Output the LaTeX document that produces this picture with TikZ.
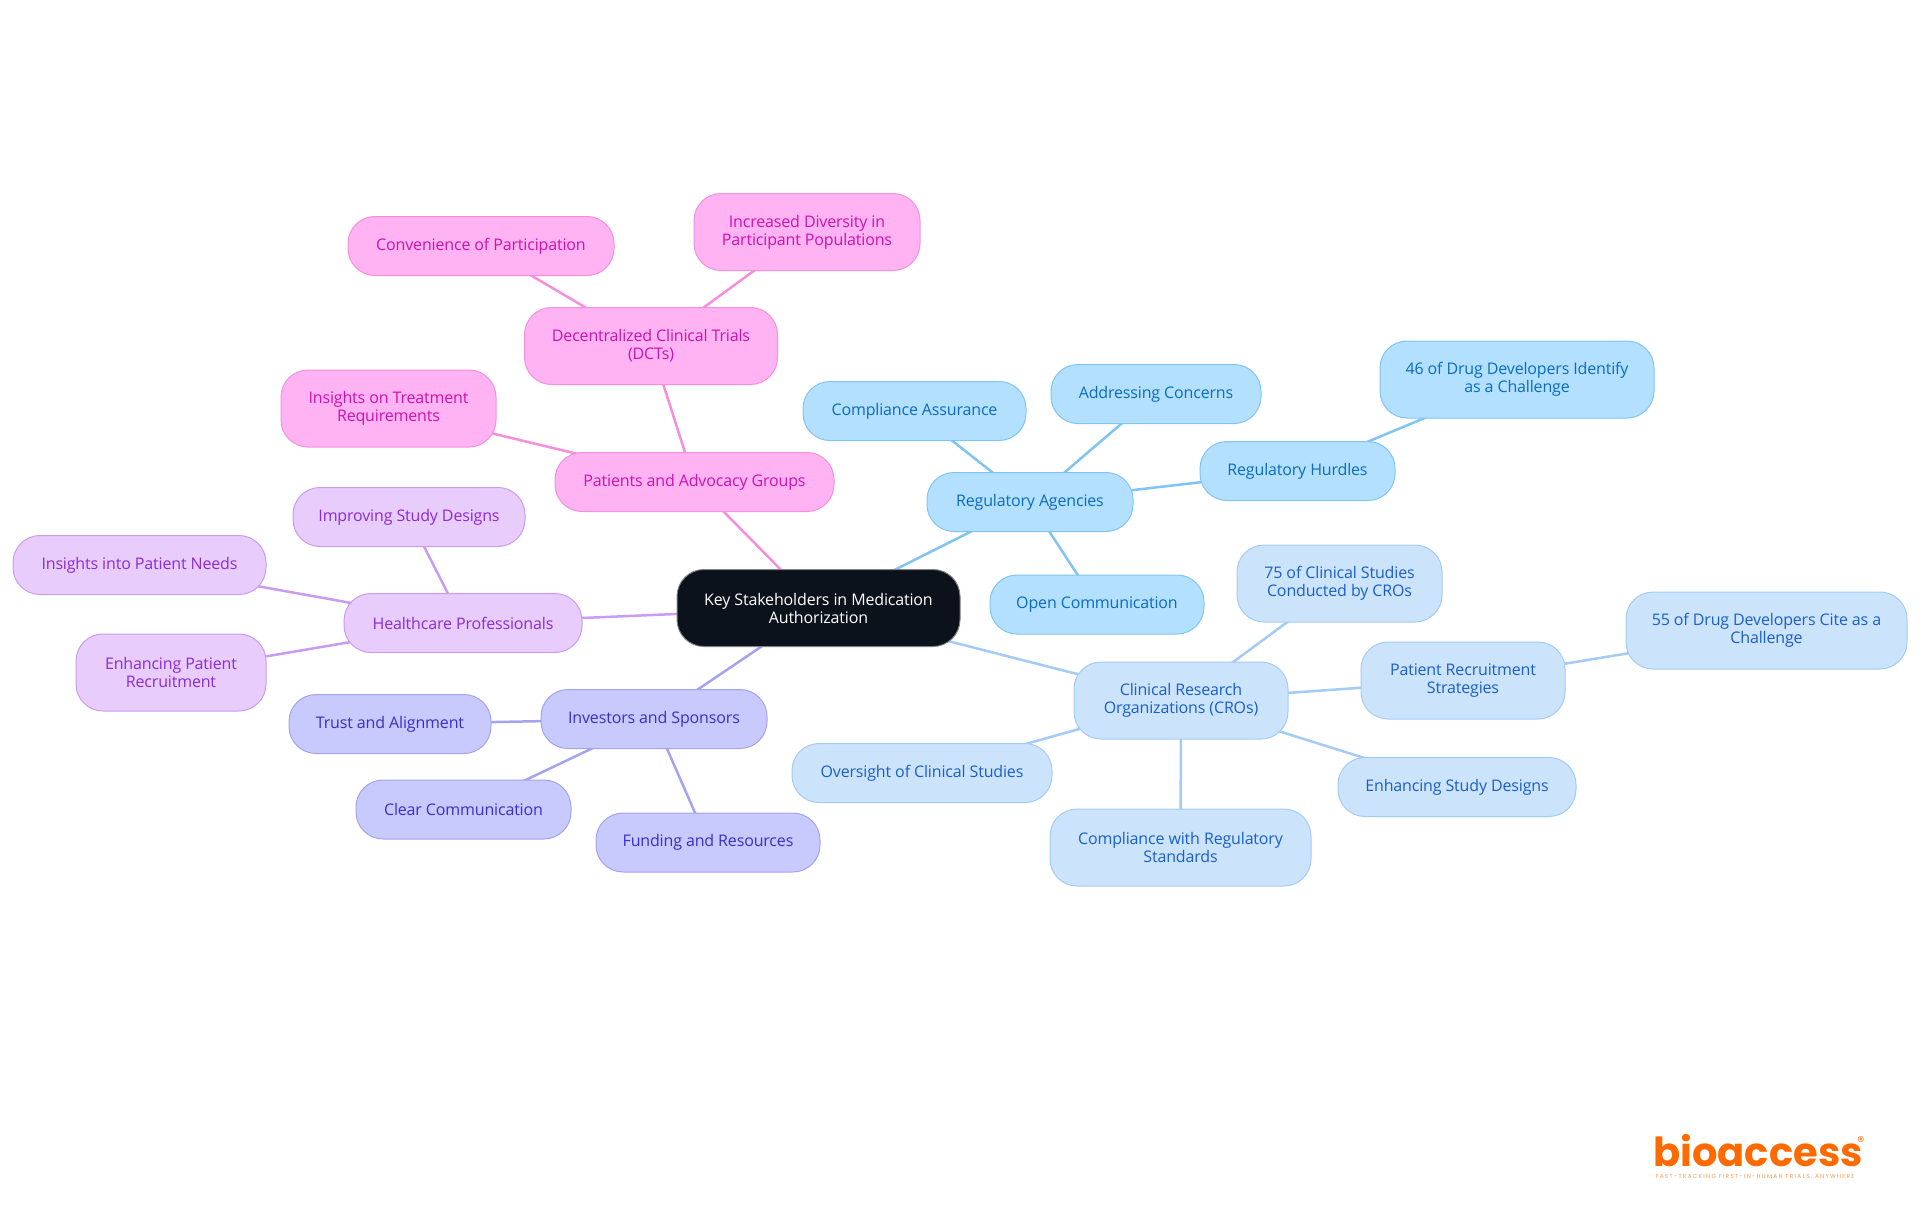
\documentclass[tikz,border=0pt]{standalone}
\usepackage{fontspec}
\setmainfont[LetterSpace=-1]{Open Sans}
\newfontfamily\logofont{Poppins}
\newfontfamily\tagfont[LetterSpace=22]{Poppins}
\usetikzlibrary{backgrounds}
\definecolor{rootfill}{HTML}{0B121B}
\definecolor{regfill}{HTML}{B3E0FF}
\definecolor{regline}{HTML}{80C4F3}
\definecolor{regtext}{HTML}{0B6CC0}
\definecolor{crofill}{HTML}{CCE3FC}
\definecolor{croline}{HTML}{A3CBF5}
\definecolor{crotext}{HTML}{1A5FC8}
\definecolor{invfill}{HTML}{C8C9FD}
\definecolor{invline}{HTML}{A3A3F0}
\definecolor{invtext}{HTML}{3A2FC8}
\definecolor{hcfill}{HTML}{E8CCFC}
\definecolor{hcline}{HTML}{C99CF0}
\definecolor{hctext}{HTML}{8A2BD8}
\definecolor{patfill}{HTML}{FFB3F2}
\definecolor{patline}{HTML}{F58FDD}
\definecolor{pattext}{HTML}{D010B0}
\definecolor{logoorange}{HTML}{FF6A00}
\tikzset{every node/.style={font=\fontsize{8pt}{9pt}\selectfont,align=center,inner sep=0pt},
         topic/.style={rounded corners=13.5pt,minimum height=29.5pt,line width=0.5pt},
         tall/.style={minimum height=38.5pt},
         rootnode/.style={topic,tall,fill=rootfill,draw=gray,text=white},
         reg/.style={topic,fill=regfill,draw=regline,text=regtext},
         cro/.style={topic,fill=crofill,draw=croline,text=crotext},
         inv/.style={topic,fill=invfill,draw=invline,text=invtext},
         hc/.style={topic,fill=hcfill,draw=hcline,text=hctext},
         pat/.style={topic,fill=patfill,draw=patline,text=pattext},
         link/.style={line width=1.25pt},
        }

\begin{document}
\begin{tikzpicture}[x=0.5pt,y=-0.5pt]
        \useasboundingbox(0,0)rectangle(1920,1215);

        \node[rootnode,minimum width=141.5pt](root)at(818.5,608){Key Stakeholders in Medication\\Authorization};

        \node[reg,minimum width=103pt](ra)at(1030,502){Regulatory Agencies};
        \node[reg,minimum width=107pt](oc)at(1097,604.5){Open Communication};
        \node[reg,minimum width=111.5pt](ca)at(914.5,411){Compliance Assurance};
        \node[reg,minimum width=105pt](ac)at(1156,394){Addressing Concerns};
        \node[reg,minimum width=97.5pt](rh)at(1297.5,471){Regulatory Hurdles};
        \node[reg,tall,minimum width=137pt](dd)at(1517,379.5){46 of Drug Developers Identify\\as a Challenge};

        \node[cro,tall,minimum width=107pt](cr)at(1181,700.5){Clinical Research\\Organizations (CROs)};
        \node[cro,tall,minimum width=102.5pt](cs)at(1339.5,583.5){75 of Clinical Studies\\Conducted by CROs};
        \node[cro,tall,minimum width=102pt](pr)at(1463,680.5){Patient Recruitment\\Strategies};
        \node[cro,tall,minimum width=140.5pt](dc)at(1766.5,630.5){55 of Drug Developers Cite as a\\Challenge};
        \node[cro,minimum width=119pt](es)at(1457,787){Enhancing Study Designs};
        \node[cro,tall,minimum width=130.5pt](cw)at(1180.5,847.5){Compliance with Regulatory\\Standards};
        \node[cro,minimum width=130pt](os)at(922,773){Oversight of Clinical Studies};

        \node[inv,minimum width=113pt](is)at(654,719){Investors and Sponsors};
        \node[inv,minimum width=101pt](ta)at(390,724){Trust and Alignment};
        \node[inv,minimum width=107.5pt](cc)at(463.5,809.5){Clear Communication};
        \node[inv,minimum width=112pt](fr)at(708,842.5){Funding and Resources};

        \node[hc,minimum width=119pt](hp)at(463,623){Healthcare Professionals};
        \node[hc,minimum width=116pt](id)at(409,517){Improving Study Designs};
        \node[hc,minimum width=126.5pt](pn)at(139.5,565){Insights into Patient Needs};
        \node[hc,tall,minimum width=95pt](ep)at(171,672.5){Enhancing Patient\\Recruitment};

        \node[pat,minimum width=139.5pt](pa)at(694.5,482){Patients and Advocacy Groups};
        \node[pat,tall,minimum width=126.5pt](dt)at(651,346){Decentralized Clinical Trials\\(DCTs)};
        \node[pat,minimum width=133pt](cp)at(481,246){Convenience of Participation};
        \node[pat,tall,minimum width=113pt](di)at(807,232){Increased Diversity in\\Participant Populations};
        \node[pat,tall,minimum width=107.5pt](tr)at(388.5,408.5){Insights on Treatment\\Requirements};

        \begin{scope}[on background layer]
        \draw[link,regline](root.center)--(ra.center);
        \draw[link,regline](ra.center)--(oc.center);
        \draw[link,regline](ra.center)--(ca.center);
        \draw[link,regline](ra.center)--(ac.center);
        \draw[link,regline](ra.center)--(rh.center);
        \draw[link,regline](rh.center)--(dd.center);

        \draw[link,croline](root.center)--(cr.center);
        \draw[link,croline](cr.center)--(cs.center);
        \draw[link,croline](cr.center)--(pr.center);
        \draw[link,croline](pr.center)--(dc.center);
        \draw[link,croline](cr.center)--(es.center);
        \draw[link,croline](cr.center)--(cw.center);
        \draw[link,croline](cr.center)--(os.center);

        \draw[link,invline](root.center)--(is.center);
        \draw[link,invline](is.center)--(ta.center);
        \draw[link,invline](is.center)--(cc.center);
        \draw[link,invline](is.center)--(fr.center);

        \draw[link,hcline](root.center)--(hp.center);
        \draw[link,hcline](hp.center)--(id.center);
        \draw[link,hcline](hp.center)--(pn.center);
        \draw[link,hcline](hp.center)--(ep.center);

        \draw[link,patline](root.center)--(pa.center);
        \draw[link,patline](pa.center)--(dt.center);
        \draw[link,patline](dt.center)--(cp.center);
        \draw[link,patline](dt.center)--(di.center);
        \draw[link,patline](pa.center)--(tr.center);
        \end{scope}

        % logo
        \node[text=logoorange,font=\logofont\bfseries\fontsize{20pt}{20pt}\selectfont](logo)at(1758,1151){bioaccess};
        \node[text=logoorange,font=\logofont\fontsize{7pt}{7pt}\selectfont](mark)at(1861,1142){®};
        \node[text=logoorange!70,font=\tagfont\fontsize{2.9pt}{3pt}\selectfont](tagline)at(1755,1177){FAST-TRACKING FIRST-IN-HUMAN TRIALS, ANYWHERE};
    \end{tikzpicture}
\end{document}
